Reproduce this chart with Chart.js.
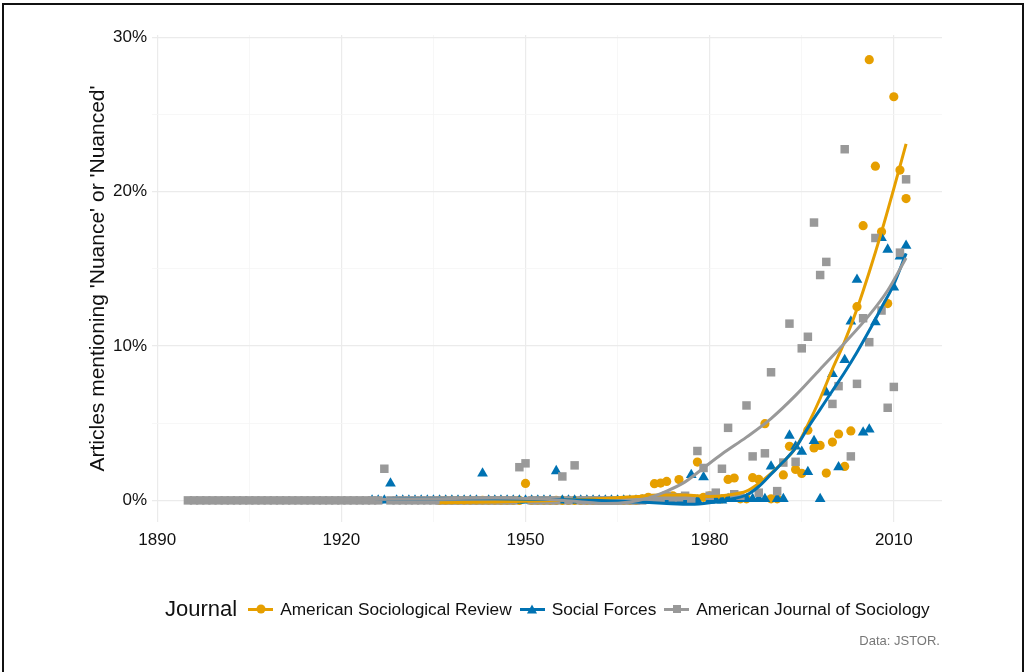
<!DOCTYPE html>
<html>
<head>
<meta charset="utf-8">
<script src="https://cdn.jsdelivr.net/npm/chart.js@4.4.0/dist/chart.umd.min.js"></script>
<style>
  body { margin: 0; background: #fff; font-family: "Liberation Sans", Arial, sans-serif; }
  #wrap { position: relative; width: 1028px; height: 672px; overflow: hidden; background: #fff; }
  #frame { position: absolute; left: 2px; top: 3px; width: 1022px; height: 720px; border: 2px solid #111; box-sizing: border-box; }
  #chart { position: absolute; left: 0; top: 0; }
  #legend { position: absolute; left: 165px; top: 596px; display: flex; align-items: center; white-space: nowrap; color: #111; }
  #legend .ttl { font-size: 22px; margin-right: 11px; }
  #legend .item { font-size: 17.3px; margin-right: 8px; }
  .key { position: relative; width: 25px; height: 16px; margin-right: 7px; }
  .key .ln { position: absolute; left: 0; right: 0; top: 7px; height: 3px; }
  .key .mk { position: absolute; left: 50%; top: 50%; transform: translate(-50%, -50%); }
  .mk.circle { width: 9px; height: 9px; border-radius: 50%; }
  .mk.square { width: 8px; height: 8px; }
  .mk.tri { width: 0; height: 0; border-left: 5px solid transparent; border-right: 5px solid transparent; }
  #caption { position: absolute; right: 88px; top: 633px; font-size: 13px; color: #777; }
</style>
</head>
<body>
<div id="wrap">
  <canvas id="chart" width="1028" height="672"></canvas>
  <div id="frame"></div>
  <div id="legend"></div>
  <div id="caption">Data: JSTOR.</div>
</div>
<script>
// journals
const journals = ["American Sociological Review", "Social Forces", "American Journal of Sociology"];
const colors = ["#E69F00", "#0072B2", "#999999"];

// yearly share of articles (%), one value per year from the start year
const asrStart = 1936;
const asrValues = [
  0, 0, 0, 0, 0, 0, 0, 0, 0,
  0, 0, 0, 0, 0, 1.1, 0, 0, 0, 0,
  0, 0, 0, 0, 0, 0, 0, 0, 0, 0,
  0, 0, 0, 0, 0.1, 0.2, 1.08, 1.12, 1.23, 0.3,
  1.35, 0.2, 0.1, 2.48, 0.2, 0.3, 0.2, 0.1, 1.36, 1.45,
  0.1, 0.1, 1.47, 1.36, 4.97, 0.1, 0.1, 1.65, 3.5, 2.0,
  1.75, 4.55, 3.4, 3.56, 1.77, 3.78, 4.3, 2.2, 4.5, 12.55,
  17.8, 28.55, 21.65, 17.4, 12.75, 26.15, 21.4, 19.55
];

const sfStart = 1925;
const sfValues = [
  0, 0, 0, 1.1, 0, 0, 0, 0, 0, 0,
  0, 0, 0, 0, 0, 0, 0, 0, 1.75, 0,
  0, 0, 0, 0, 0, 0, 0, 0, 0, 0,
  1.9, 0, 0, 0, 0, 0, 0, 0, 0, 0,
  0, 0, 0, 0, 0, 0, 0, 0, 0, 0,
  0, 0, 1.65, 0, 1.5, 0, 0, 0, 0.1, 0.1,
  0.1, 0.1, 0.1, 0.1, 0.1, 2.2, 0.1, 0.1, 4.2, 3.5,
  3.15, 1.85, 3.85, 0.1, 7.0, 8.2, 2.15, 9.1, 11.6, 14.3,
  4.4, 4.6, 11.55, 17.0, 16.25, 13.8, 15.8, 16.5
];

const ajsStart = 1895;
const ajsValues = [
  0, 0, 0, 0, 0, 0, 0, 0, 0, 0,
  0, 0, 0, 0, 0, 0, 0, 0, 0, 0,
  0, 0, 0, 0, 0, 0, 0, 0, 0, 0,
  0, 0, 2.05, 0, 0, 0, 0, 0, 0, 0,
  0, 0, 0, 0, 0, 0, 0, 0, 0, 0,
  0, 0, 0, 0, 2.15, 2.4, 0, 0, 0, 0,
  0, 1.55, 0, 2.27, 0, 0, 0, 0, 0, 0,
  0, 0, 0, 0, 0, 0.1, 0.15, 0.1, 0.3, 0.2,
  0.2, 0.3, 0.1, 3.2, 2.1, 0.3, 0.5, 2.05, 4.7, 0.4,
  0.3, 6.15, 2.85, 0.5, 3.05, 8.3, 0.6, 2.45, 11.45, 2.5,
  9.85, 10.6, 18.0, 14.6, 15.45, 6.25, 7.4, 22.75, 2.85, 7.55,
  11.8, 10.25, 17.0, 12.3, 6.0, 7.35, 16.05, 20.8
];

// smoothed trend lines
const asrFitYears = [1936, 1945, 1955, 1962, 1968, 1972, 1976, 1980, 1983, 1986, 1988, 1990, 1992, 1994, 1996, 1998, 2000, 2002, 2004, 2006, 2008, 2010, 2012];
const asrFit = [-0.15, -0.1, 0.0, 0.1, 0.25, 0.35, 0.35, 0.25, 0.35, 0.6, 1.1, 1.75, 2.5, 3.4, 4.9, 6.6, 8.5, 10.3, 12.4, 14.8, 17.4, 20.2, 23.1];
const sfFitYears = [1925, 1935, 1945, 1955, 1962, 1968, 1973, 1977, 1980, 1983, 1986, 1988, 1990, 1992, 1994, 1996, 1998, 2000, 2002, 2004, 2006, 2008, 2010, 2012];
const sfFit = [0.05, 0.1, 0.1, 0.05, 0.0, -0.1, -0.2, -0.25, -0.15, 0.05, 0.35, 0.9, 1.7, 2.5, 3.4, 4.7, 5.9, 7.1, 8.3, 9.6, 11.0, 12.5, 14.0, 16.0];
const ajsFitYears = [1895, 1905, 1915, 1925, 1935, 1945, 1952, 1958, 1963, 1967, 1970, 1973, 1976, 1979, 1982, 1986, 1990, 1994, 1998, 2002, 2006, 2009, 2012];
const ajsFit = [0.0, 0.0, 0.0, 0.05, 0.1, 0.15, 0.1, -0.05, -0.2, -0.1, 0.15, 0.6, 1.2, 2.1, 3.0, 4.1, 5.3, 6.8, 8.5, 10.2, 12.0, 13.6, 15.7];

// axes
const xGrid = [1890, 1905, 1920, 1935, 1950, 1965, 1980, 1995, 2010];
const xTickValues = [1890, 1920, 1950, 1980, 2010];
const xTickLabels = ["1890", "1920", "1950", "1980", "2010"];
const yGrid = [0, 5, 10, 15, 20, 25, 30];
const yTickValues = [0, 10, 20, 30];
const yTickLabels = ["0%", "10%", "20%", "30%"];

const yearly = (start, vals) => vals.map((v, i) => ({ x: start + i, y: v }));
const pairs = (xs, ys) => xs.map((x, i) => ({ x: x, y: ys[i] }));

const pointSets = [
  { data: yearly(asrStart, asrValues), style: "circle", r: 4.6, order: 5 },
  { data: yearly(sfStart, sfValues), style: "triangle", r: 6.2, order: 4 },
  { data: yearly(ajsStart, ajsValues), style: "rect", r: 6.0, order: 3 }
];
const lineSets = [
  { data: pairs(asrFitYears, asrFit), order: 2 },
  { data: pairs(sfFitYears, sfFit), order: 1 },
  { data: pairs(ajsFitYears, ajsFit), order: 0 }
];

const datasets = [];
pointSets.forEach((p, i) => {
  datasets.push({
    label: journals[i],
    data: p.data,
    showLine: false,
    pointStyle: p.style,
    pointRadius: p.r,
    backgroundColor: colors[i],
    borderColor: colors[i],
    pointBorderWidth: 0,
    order: p.order
  });
});
lineSets.forEach((l, i) => {
  datasets.push({
    label: journals[i] + " trend",
    data: l.data,
    borderColor: colors[i],
    borderWidth: 3,
    pointRadius: 0,
    cubicInterpolationMode: "monotone",
    fill: false,
    order: l.order
  });
});

const gridColor = (ctx, majors) => majors.includes(ctx.tick.value) ? "#ebebeb" : "#f5f5f5";

new Chart(document.getElementById("chart"), {
  type: "line",
  data: { datasets: datasets },
  options: {
    responsive: false,
    animation: false,
    devicePixelRatio: 1,
    layout: { padding: { left: 0, right: 86, top: 35, bottom: 110 } },
    plugins: { legend: { display: false }, tooltip: { enabled: false } },
    scales: {
      x: {
        type: "linear",
        min: 1889.15,
        max: 2017.85,
        afterBuildTicks: (s) => { s.ticks = xGrid.map((v) => ({ value: v })); },
        afterFit: (s) => { s.height = 40; },
        border: { display: false },
        grid: {
          drawTicks: false,
          color: (ctx) => gridColor(ctx, xTickValues),
          lineWidth: (ctx) => xTickValues.includes(ctx.tick.value) ? 1.2 : 0.8
        },
        ticks: {
          autoSkip: false,
          maxRotation: 0,
          padding: 8,
          color: "#111",
          font: { family: "Liberation Sans", size: 17 },
          callback: (v) => {
            const i = xTickValues.indexOf(v);
            return i >= 0 ? xTickLabels[i] : "";
          }
        }
      },
      y: {
        min: -1.4,
        max: 30.15,
        afterBuildTicks: (s) => { s.ticks = yGrid.map((v) => ({ value: v })); },
        afterFit: (s) => { s.width = 152; },
        border: { display: false },
        grid: {
          drawTicks: false,
          color: (ctx) => gridColor(ctx, yTickValues),
          lineWidth: (ctx) => yTickValues.includes(ctx.tick.value) ? 1.2 : 0.8
        },
        ticks: {
          autoSkip: false,
          padding: 5,
          color: "#111",
          font: { family: "Liberation Sans", size: 17 },
          callback: (v) => {
            const i = yTickValues.indexOf(v);
            return i >= 0 ? yTickLabels[i] : "";
          }
        },
        title: {
          display: true,
          text: "Articles mentioning 'Nuance' or 'Nuanced'",
          color: "#111",
          font: { family: "Liberation Sans", size: 21 },
          padding: { top: 86, bottom: 0 }
        }
      }
    }
  }
});

// legend: line with marker, as ggplot draws it
const legend = document.getElementById("legend");
legend.innerHTML = '<span class="ttl">Journal</span>';
const shapes = ["circle", "tri", "square"];
journals.forEach((name, i) => {
  const key = document.createElement("span");
  key.className = "key";
  const mk = shapes[i] === "tri"
    ? '<span class="mk tri" style="border-bottom:9px solid ' + colors[i] + '"></span>'
    : '<span class="mk ' + shapes[i] + '" style="background:' + colors[i] + '"></span>';
  key.innerHTML = '<span class="ln" style="background:' + colors[i] + '"></span>' + mk;
  legend.appendChild(key);
  const txt = document.createElement("span");
  txt.className = "item";
  txt.textContent = name;
  legend.appendChild(txt);
});
</script>
</body>
</html>
